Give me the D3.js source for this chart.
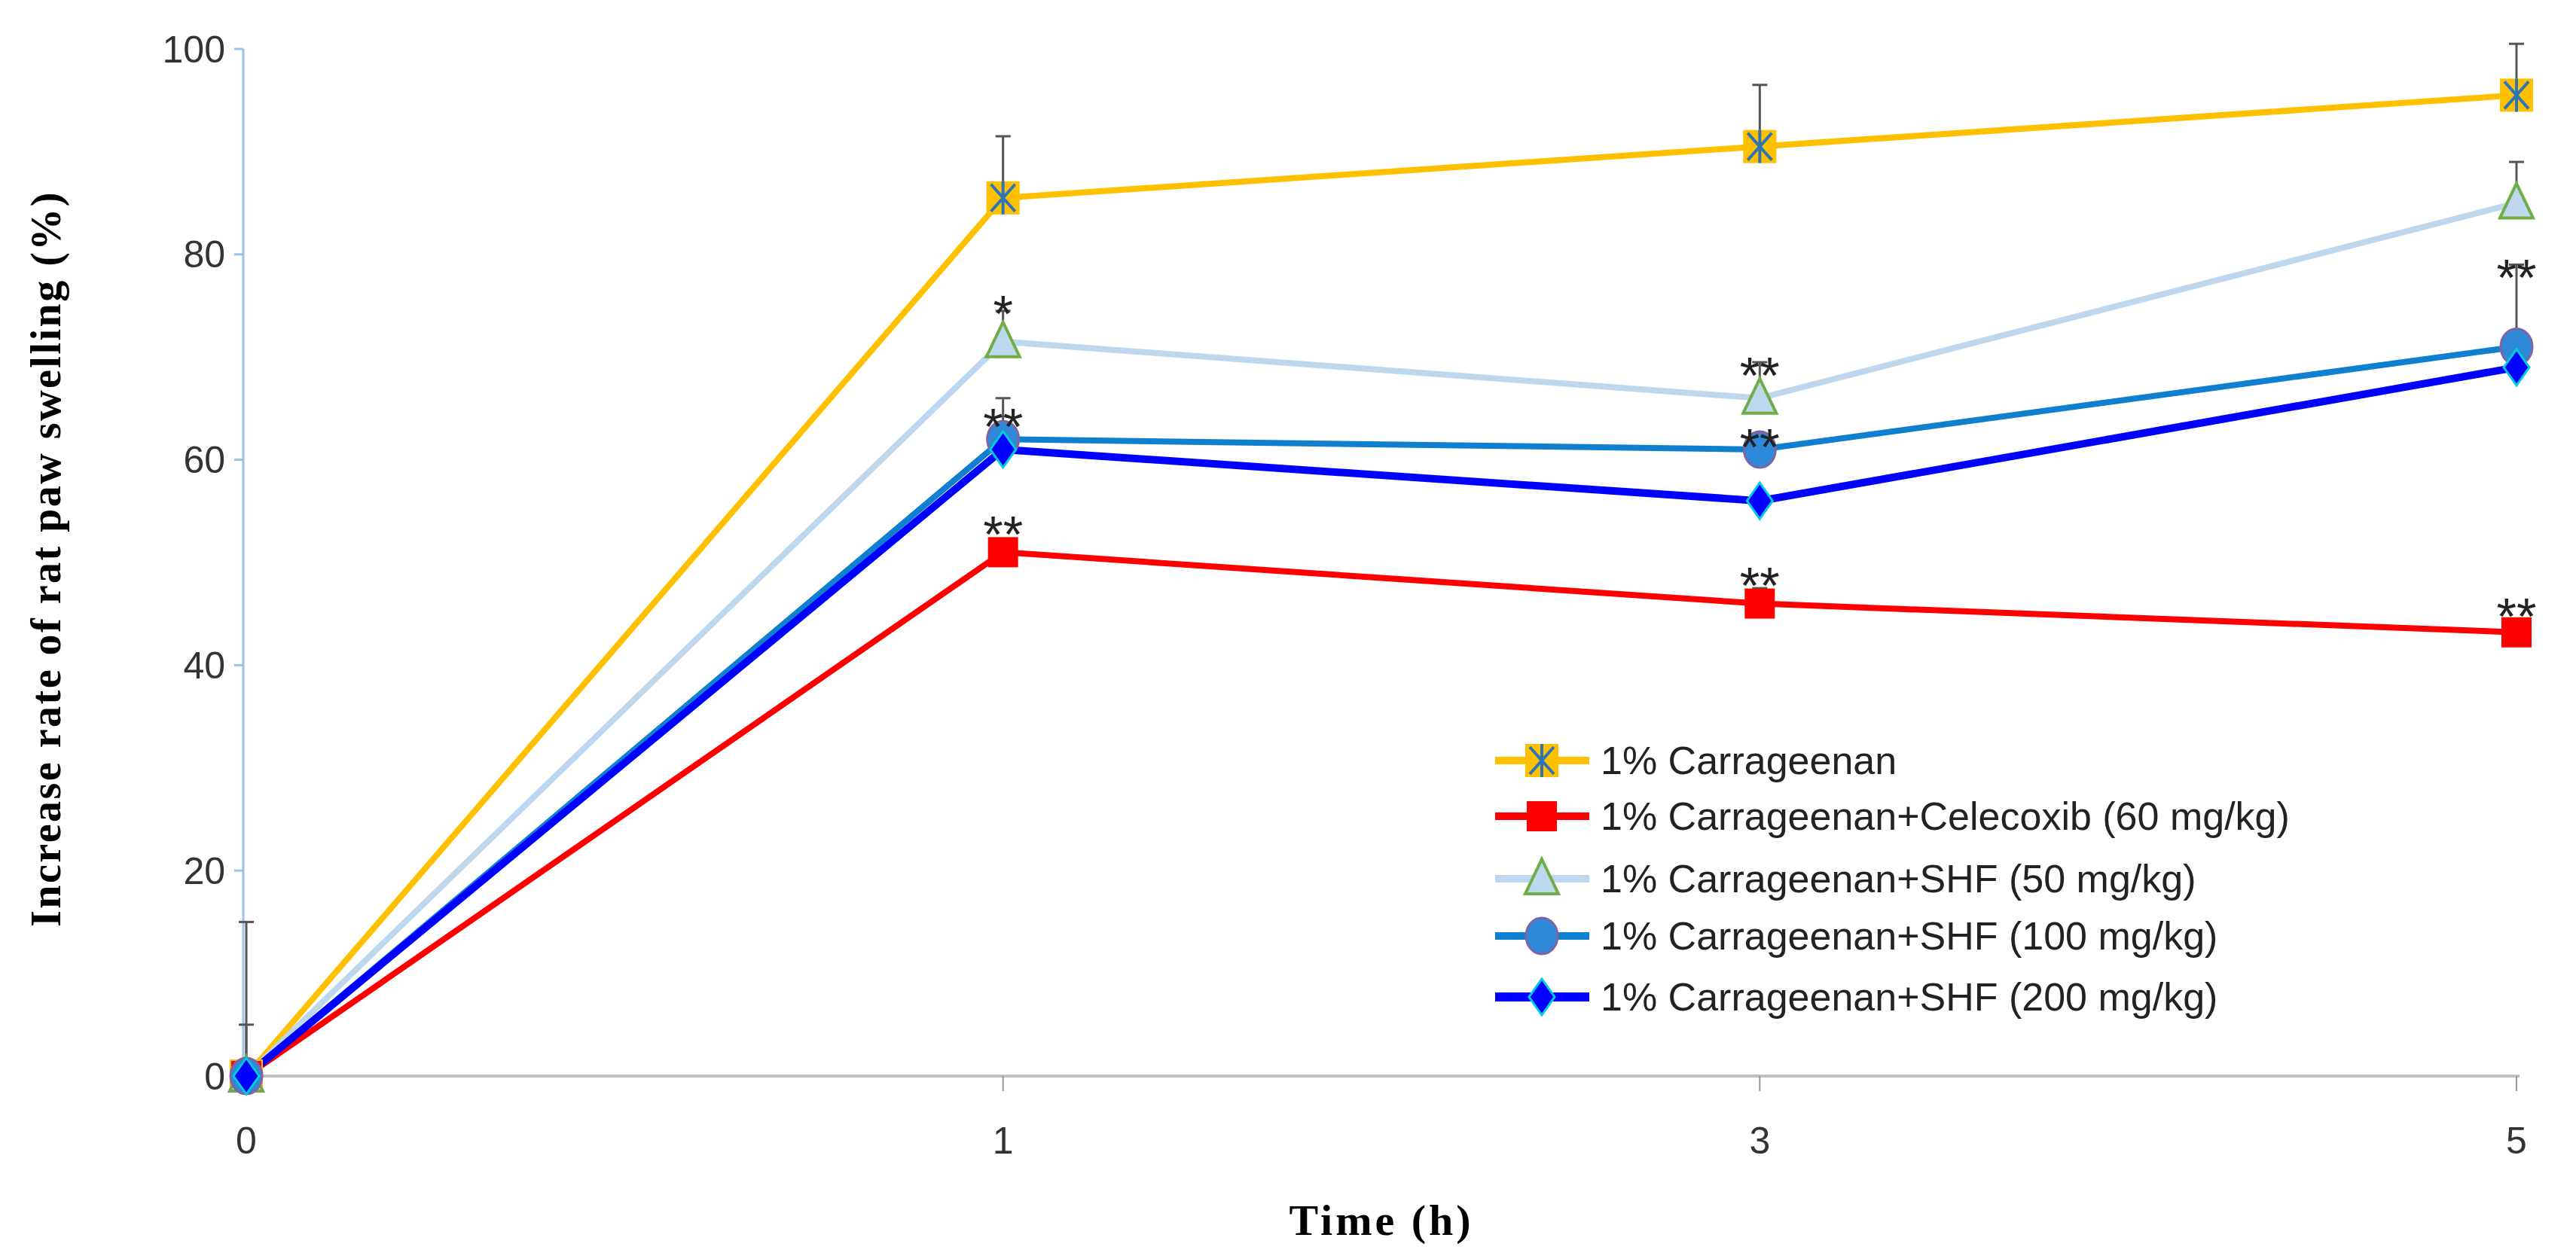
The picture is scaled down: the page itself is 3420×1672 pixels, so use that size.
<!DOCTYPE html><html><head><meta charset="utf-8">
<script src="https://cdn.jsdelivr.net/npm/d3@7"></script>
<style>body{margin:0;background:#fff}</style></head><body>
<svg id="c" width="3420" height="1672"></svg>
<script>
const times=["0","1","3","5"];
const names=["1% Carrageenan","1% Carrageenan+Celecoxib (60 mg/kg)","1% Carrageenan+SHF (50 mg/kg)","1% Carrageenan+SHF (100 mg/kg)","1% Carrageenan+SHF (200 mg/kg)"];
const carr=[0,85.5,90.5,95.5], carrErr=[15,6,6,5];
const cele=[0,51,46,43.2], celeErr=[0,0.8,1.5,0.6];
const shf50=[0,71.5,66,85], shf50Err=[5,3,3.5,4];
const shf100=[0,62,61,71], shf100Err=[0,4,0,8];
const shf200=[0,61,56,69], shf200Err=[0,0.5,0.5,0.5];
const yTicks=[0,20,40,60,80,100];
const stars=[["1",76,"*"],["1",65,"**"],["1",54.5,"**"],["3",70,"**"],["3",63,"**"],["3",49.5,"**"],["5",79.5,"**"],["5",46.5,"**"]];

const series=[
 {v:carr,e:carrErr,line:"#FFC000",w:8,m:"xsq"},
 {v:cele,e:celeErr,line:"#FF0000",w:8,m:"sq"},
 {v:shf50,e:shf50Err,line:"#BDD7EE",w:8,m:"tri"},
 {v:shf100,e:shf100Err,line:"#0F7FD0",w:8,m:"circ"},
 {v:shf200,e:shf200Err,line:"#0000FF",w:10,m:"dia"}];

const svg=d3.select("#c");
const x=d3.scalePoint().domain(times).range([327,3341]);
const y=d3.scaleLinear().domain([0,100]).range([1429,65]);
const X0=323;
const sans="Liberation Sans, Arial, sans-serif";
svg.append("line").attr("x1",X0).attr("x2",3345).attr("y1",1429).attr("y2",1429).attr("stroke","#bfbfbf").attr("stroke-width",4);
svg.append("line").attr("x1",X0).attr("x2",X0).attr("y1",y(100)).attr("y2",1429).attr("stroke","#9DC3E6").attr("stroke-width",3);
yTicks.forEach(t=>{
 svg.append("line").attr("x1",X0-12).attr("x2",X0).attr("y1",y(t)).attr("y2",y(t)).attr("stroke","#9DC3E6").attr("stroke-width",3);
 svg.append("text").attr("x",X0-24).attr("y",y(t)).attr("dy","0.35em").attr("text-anchor","end").attr("font-family",sans).attr("font-size",50).attr("fill","#333").text(t);
});
times.forEach(t=>{
 svg.append("line").attr("x1",x(t)).attr("x2",x(t)).attr("y1",1429).attr("y2",1449).attr("stroke","#999").attr("stroke-width",2);
 svg.append("text").attr("x",x(t)).attr("y",1532).attr("text-anchor","middle").attr("font-family",sans).attr("font-size",50).attr("fill","#333").text(t);
});
svg.append("text").attr("x",1834).attr("y",1640).attr("text-anchor","middle").attr("font-family","Liberation Serif, serif").attr("font-weight","bold").attr("font-size",58).attr("letter-spacing",4).text("Time (h)");
svg.append("text").attr("transform","translate(80,742) rotate(-90)").attr("text-anchor","middle").attr("font-family","Liberation Serif, serif").attr("font-weight","bold").attr("font-size",56).attr("letter-spacing",2.5).text("Increase rate of rat paw swelling (%)");

function marker(g,type,cx,cy){
 if(type=="xsq"){g.append("rect").attr("x",cx-22).attr("y",cy-22).attr("width",44).attr("height",44).attr("fill","#FFC000");
  g.append("path").attr("d",`M${cx-16},${cy-18}L${cx+16},${cy+18}M${cx+16},${cy-18}L${cx-16},${cy+18}M${cx},${cy-22}V${cy+22}`).attr("stroke","#2E75B6").attr("stroke-width",4);}
 else if(type=="sq") g.append("rect").attr("x",cx-20).attr("y",cy-20).attr("width",40).attr("height",40).attr("fill","#FF0000");
 else if(type=="tri") g.append("path").attr("d",`M${cx},${cy-26}L${cx+22},${cy+20}L${cx-22},${cy+20}Z`).attr("fill","#BDD7EE").attr("stroke","#70AD47").attr("stroke-width",4);
 else if(type=="circ") g.append("ellipse").attr("cx",cx).attr("cy",cy).attr("rx",21).attr("ry",24).attr("fill","#2E8AD8").attr("stroke","#8064A2").attr("stroke-width",3);
 else g.append("path").attr("d",`M${cx},${cy-24}L${cx+17},${cy}L${cx},${cy+24}L${cx-17},${cy}Z`).attr("fill","#0000FF").attr("stroke","#00CCDD").attr("stroke-width",3);
}
const line=d3.line().x((d,i)=>x(times[i])).y(d=>y(d));
series.forEach(s=>{
 s.v.forEach((v,i)=>{ if(s.e[i]>0){const g=svg.append("g").attr("stroke","#555").attr("stroke-width",3);
  g.append("line").attr("x1",x(times[i])).attr("x2",x(times[i])).attr("y1",y(v)).attr("y2",y(v+s.e[i]));
  g.append("line").attr("x1",x(times[i])-10).attr("x2",x(times[i])+10).attr("y1",y(v+s.e[i])).attr("y2",y(v+s.e[i]));}});
});
series.forEach(s=>{
 svg.append("path").datum(s.v).attr("d",line).attr("fill","none").attr("stroke",s.line).attr("stroke-width",s.w);
});
series.forEach(s=>{ s.v.forEach((v,i)=>marker(svg.append("g"),s.m,x(times[i]),y(v))); });
stars.forEach(([t,v,s])=>svg.append("text").attr("x",x(t)).attr("y",y(v)).attr("dy","0.7em").attr("text-anchor","middle").attr("font-family",sans).attr("font-size",68).attr("fill","#222").text(s));
const ly=[1010,1084,1167,1243,1324];
series.forEach((s,i)=>{
 svg.append("line").attr("x1",1985).attr("x2",2110).attr("y1",ly[i]).attr("y2",ly[i]).attr("stroke",s.line).attr("stroke-width",s.w+2);
 marker(svg.append("g"),s.m,2047,ly[i]);
 svg.append("text").attr("x",2125).attr("y",ly[i]).attr("dy","0.35em").attr("font-family",sans).attr("font-size",52).attr("fill","#222").text(names[i]);
});
</script></body></html>
